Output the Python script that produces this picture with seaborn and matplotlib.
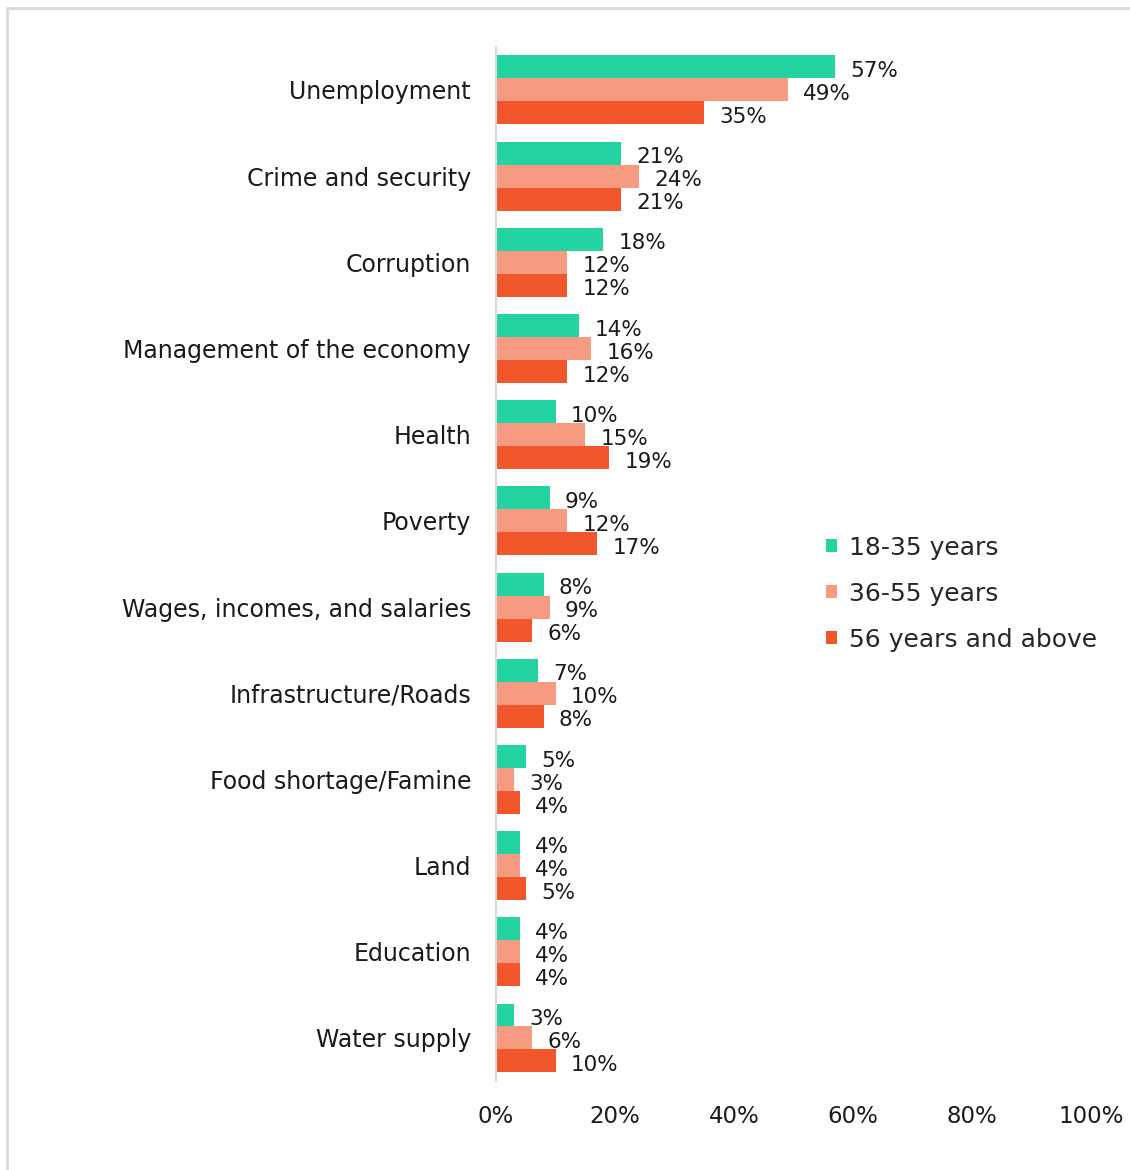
import pandas as pd
import numpy as np
import matplotlib
matplotlib.use('Agg')
import matplotlib.pyplot as plt
import seaborn as sns
from matplotlib.lines import Line2D

# Data (percent of respondents)
issues = ['Unemployment', 'Crime and security', 'Corruption', 'Management of the economy',
          'Health', 'Poverty', 'Wages, incomes, and salaries', 'Infrastructure/Roads',
          'Food shortage/Famine', 'Land', 'Education', 'Water supply']
age_groups = ['18-35 years', '36-55 years', '56 years and above']
young = [57, 21, 18, 14, 10, 9, 8, 7, 5, 4, 4, 3]
middle = [49, 24, 12, 16, 15, 12, 9, 10, 3, 4, 4, 6]
older = [35, 21, 12, 12, 19, 17, 6, 8, 4, 5, 4, 10]
colors = ['#23D3A2', '#F79A82', '#F2562B']

# long format for seaborn
df = pd.DataFrame({
    'Issue': issues * 3,
    'Group': np.repeat(age_groups, len(issues)),
    'Share': young + middle + older,
})

sns.set_style('white')
plt.rcParams['font.family'] = ['DejaVu Sans']

fig = plt.figure(figsize=(11.3, 11.7), dpi=100)
ax = fig.add_axes([0.439, 0.076, 0.5265, 0.884])

sns.barplot(data=df, y='Issue', x='Share', hue='Group', order=issues, hue_order=age_groups,
            palette=colors, orient='h', width=0.8, saturation=1, linewidth=0, ax=ax)

# value labels at the bar ends, nudged a little downwards like the original
for cont in ax.containers:
    anns = ax.bar_label(cont, labels=[f'{v:.0f}%' for v in cont.datavalues], padding=11,
                        fontsize=15.5, color='#1a1a1a')
    for a in anns:
        a.xyann = (11, -3)

ax.set_xlim(0, 100)
ax.set_ylim(len(issues) - 0.5, -0.5)
ax.set_xticks(range(0, 101, 20))
ax.set_xticklabels([f'{t}%' for t in range(0, 101, 20)])
ax.tick_params(axis='x', labelsize=16.5, length=0, pad=17, colors='#1a1a1a')
ax.tick_params(axis='y', labelsize=17, length=0, pad=18, colors='#1a1a1a')
ax.set_xlabel('')
ax.set_ylabel('')

for side in ['top', 'right', 'bottom']:
    ax.spines[side].set_visible(False)
ax.spines['left'].set_color('#D9D9D9')
ax.spines['left'].set_linewidth(1.5)

leg = ax.legend(loc='upper left', bbox_to_anchor=(0.537, 0.537), frameon=False, fontsize=18,
                handlelength=0.45, handleheight=0.45, handletextpad=0.5, labelspacing=0.88,
                borderaxespad=0)

# light frame lines (left and top) around the whole chart
fig.add_artist(Line2D([7 / 1130, 7 / 1130], [0, 1 - 8 / 1170], transform=fig.transFigure,
                      color='#D9D9D9', linewidth=2))
fig.add_artist(Line2D([7 / 1130, 1], [1 - 8 / 1170, 1 - 8 / 1170], transform=fig.transFigure,
                      color='#D9D9D9', linewidth=2))

fig.savefig('out.png', dpi=100)
